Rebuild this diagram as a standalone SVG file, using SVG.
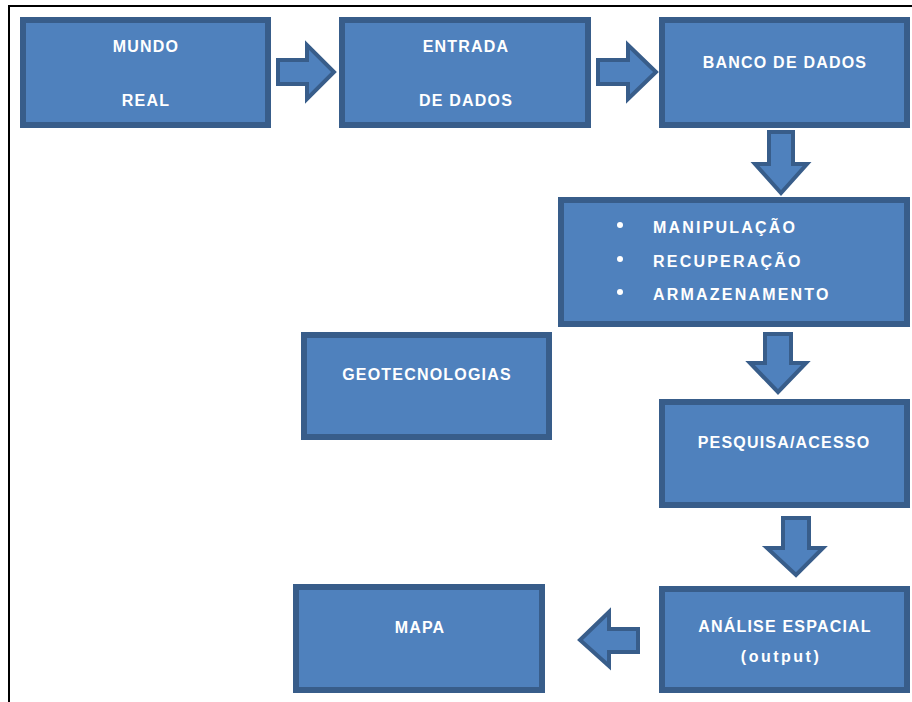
<svg xmlns="http://www.w3.org/2000/svg" width="912" height="702" viewBox="0 0 912 702">
  <style>
    .box { fill: #4f81bd; stroke: #385d8a; stroke-width: 6; }
    .arrow { fill: #4f81bd; stroke: #385d8a; stroke-width: 4; stroke-linejoin: miter; }
    .label { fill: #ffffff; font-family: "Liberation Sans", Arial, sans-serif; font-size: 16px; font-weight: bold; letter-spacing: 1.2px; }
    .c { text-anchor: middle; }
    .item { letter-spacing: 2.2px; }
    .frame { stroke: #000000; stroke-width: 2; fill: none; }
  </style>
  <rect width="912" height="702" fill="#ffffff"/>
  <!-- page frame (top and left edges) -->
  <path class="frame" d="M9 702 V6 H912"/>

  <g id="connectors">
    <polygon class="arrow" points="278,60 307,60 307,45 334,72 307,99 307,84 278,84"/>
    <polygon class="arrow" points="598,60 628,60 628,45 656,72 628,99 628,84 598,84"/>
    <polygon class="arrow" points="769,132 793,132 793,164 807,164 781,193 755,164 769,164"/>
    <polygon class="arrow" points="765,334 791,334 791,363 806,363 778,392 750,363 765,363"/>
    <polygon class="arrow" points="783,518 809,518 809,548 823,548 796,575 767,548 783,548"/>
    <polygon class="arrow" points="638,629 609,629 609,612 580,640 609,666 609,652 638,652"/>
  </g>

  <g id="mundo-real">
    <rect class="box" x="23" y="20" width="245" height="105"/>
    <text class="label c" x="146" y="52">MUNDO</text>
    <text class="label c" x="146" y="106">REAL</text>
  </g>

  <g id="entrada-dados">
    <rect class="box" x="342" y="20" width="246" height="105"/>
    <text class="label c" x="466" y="52">ENTRADA</text>
    <text class="label c" x="466" y="106">DE DADOS</text>
  </g>

  <g id="banco-dados">
    <rect class="box" x="662" y="20" width="245" height="105"/>
    <text class="label c" x="785" y="68">BANCO DE DADOS</text>
  </g>

  <g id="operacoes">
    <rect class="box" x="561" y="200" width="346" height="124"/>
    <circle cx="620" cy="225" r="3" fill="#ffffff"/>
    <circle cx="620" cy="259" r="3" fill="#ffffff"/>
    <circle cx="620" cy="292" r="3" fill="#ffffff"/>
    <text class="label item" x="653" y="233">MANIPULAÇÃO</text>
    <text class="label item" x="653" y="267">RECUPERAÇÃO</text>
    <text class="label item" x="653" y="300">ARMAZENAMENTO</text>
  </g>

  <g id="geotecnologias">
    <rect class="box" x="304" y="335" width="245" height="102"/>
    <text class="label c" x="427" y="380">GEOTECNOLOGIAS</text>
  </g>

  <g id="pesquisa-acesso">
    <rect class="box" x="662" y="402" width="245" height="103"/>
    <text class="label c" x="784" y="448">PESQUISA/ACESSO</text>
  </g>

  <g id="analise-espacial">
    <rect class="box" x="662" y="589" width="245" height="101"/>
    <text class="label c" x="785" y="632">ANÁLISE ESPACIAL</text>
    <text class="label c" x="781" y="662" style="letter-spacing:2.5px">(output)</text>
  </g>

  <g id="mapa">
    <rect class="box" x="296" y="587" width="246" height="103"/>
    <text class="label c" x="420" y="633">MAPA</text>
  </g>
</svg>
